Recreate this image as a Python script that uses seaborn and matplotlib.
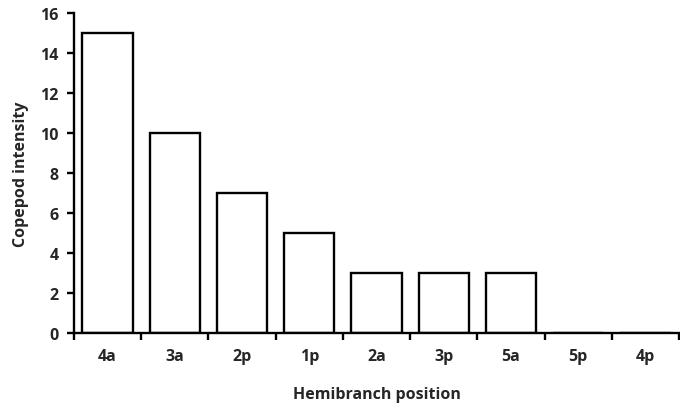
import matplotlib
matplotlib.use("Agg")
import matplotlib.pyplot as plt
import seaborn as sns
import pandas as pd
import numpy as np

positions = ["4a", "3a", "2p", "1p", "2a", "3p", "5a", "5p", "4p"]
intensity = [15, 10, 7, 5, 3, 3, 3, 0, 0]

sns.set_theme(style="ticks")
plt.rcParams['font.family'] = ['Open Sans', 'DejaVu Sans']
plt.rcParams['font.weight'] = 'bold'

df = pd.DataFrame({"pos": positions, "val": intensity})

fig = plt.figure(figsize=(6.8, 4.06), dpi=100)
ax = fig.add_axes([74/680, 72/406, 605/680, 320/406])

sns.barplot(data=df, x="pos", y="val", order=positions, color="white",
            edgecolor="black", linewidth=1.7, width=0.75, ax=ax, saturation=1)

fs = 11.5
ax.set_xlim(-0.5, len(positions) - 0.5)
ax.set_ylim(0, 16)
ax.set_yticks(np.arange(0, 17, 2))
ax.set_xticks(np.arange(len(positions)))
ax.set_xticklabels(positions, fontweight='bold', fontsize=fs)
ax.tick_params(axis='x', which='major', length=0, pad=11)
ax.set_xticks(np.arange(-0.5, len(positions), 1), minor=True)
ax.tick_params(axis='x', which='minor', length=5, width=1.7, direction='out', color='black')
ax.tick_params(axis='y', length=5, width=1.7, direction='out', labelsize=fs, color='black', pad=6)
for lab in ax.get_yticklabels():
    lab.set_fontweight('bold')

for s in ['top', 'right']:
    ax.spines[s].set_visible(False)
for s in ['left', 'bottom']:
    ax.spines[s].set_linewidth(1.7)
    ax.spines[s].set_color('black')

ax.set_xlabel("Hemibranch position", fontweight='bold', fontsize=fs, labelpad=16)
ax.set_ylabel("Copepod intensity", fontweight='bold', fontsize=fs, labelpad=8)

fig.savefig("out.png", dpi=100)
